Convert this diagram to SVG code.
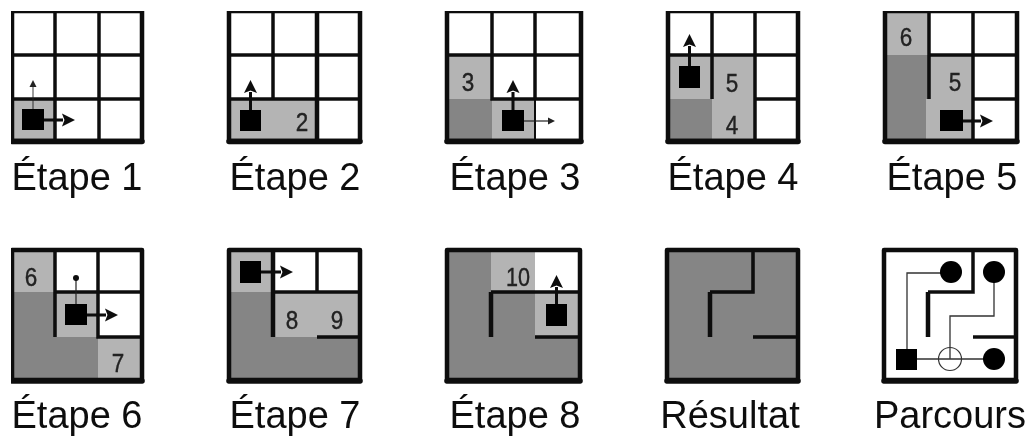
<svg xmlns="http://www.w3.org/2000/svg" width="1033" height="440" viewBox="0 0 1033 440">
<style>
.l{fill:#b4b4b4}.d{fill:#858585}.w{fill:#fff}
.frame{fill:none;stroke:#0a0a0a;stroke-width:4.500;stroke-linejoin:round}
.base{fill:none;stroke:#0a0a0a;stroke-width:5.500;stroke-linecap:round}
.wall{fill:none;stroke:#0a0a0a;stroke-width:3.500;stroke-linejoin:miter}
.thick{stroke:#0a0a0a;stroke-width:3;fill:none;marker-end:url(#hb)}
.thin{stroke:#222;stroke-width:1.2;fill:none;marker-end:url(#hs)}
.robot{fill:#000}
.n{font-family:"Liberation Sans",Arial,sans-serif;font-size:26px;fill:#222;stroke:#222;stroke-width:0.4;text-anchor:middle}
.t{font-family:"Liberation Sans",Arial,sans-serif;font-size:38px;fill:#111;text-anchor:middle}
.cable{fill:none;stroke:#333;stroke-width:1.300}
</style>
<defs>
<filter id="soft" x="0" y="0" width="100%" height="100%"><feGaussianBlur stdDeviation="0.6"/></filter>
<marker id="hb" markerUnits="userSpaceOnUse" markerWidth="14" markerHeight="14" refX="1" refY="7" orient="auto"><path d="M0,0.5 L13,7 L0,13.500 L2.500,7 Z" fill="#0a0a0a"/></marker>
<marker id="hs" markerUnits="userSpaceOnUse" markerWidth="8" markerHeight="8" refX="1" refY="4" orient="auto"><path d="M0,0.5 L7,4 L0,7.5 Z" fill="#222"/></marker>
</defs>
<rect width="1033" height="440" fill="#fff"/>
<g filter="url(#soft)">

<g id="etape-1">
<rect class="l" x="12" y="99" width="43" height="42"/>
<path class="wall" d="M55 11V141M99 11V141M12 55H142M12 99H142"/>
<rect class="frame" x="12" y="11" width="130" height="130"/><path class="base" d="M12 141.500H142"/>
<rect class="robot" x="22" y="109" width="22" height="21"/>
<path class="thin" d="M33 109V86" stroke-opacity="0.75"/>
<path class="thick" d="M44 120H63"/>
<text class="t" x="77" y="190">Étape 1</text>
</g>

<g id="etape-2">
<rect class="l" x="229" y="99" width="88" height="42"/>
<path class="wall" d="M273 11V99M229 55H360M229 99H360"/><path class="wall" stroke-width="4.500" d="M317 11V141" style="stroke-width:4.500px"/>
<rect class="frame" x="229" y="11" width="131" height="130"/><path class="base" d="M229 141.500H360"/>
<rect class="robot" x="240" y="110" width="21" height="21"/>
<path class="thick" d="M250.500 110V92"/>
<text class="n" x="302" y="130.500" textLength="12.500" lengthAdjust="spacingAndGlyphs">2</text>
<text class="t" x="295" y="190">Étape 2</text>
</g>

<g id="etape-3">
<rect class="l" x="447" y="55" width="45" height="44"/><rect class="d" x="447" y="99" width="45" height="42"/><rect class="l" x="492" y="99" width="43" height="42"/>
<path class="wall" d="M447 55H581M492 11V99H581M535 11V99"/><path class="wall" d="M535 99V141" style="stroke-width:2px"/>
<rect class="frame" x="447" y="11" width="134" height="130"/><path class="base" d="M447 141.500H581"/>
<rect class="robot" x="502" y="110" width="22" height="21"/>
<path class="thick" d="M513 110V92"/>
<path class="thin" d="M524 121H549"/>
<text class="n" x="468" y="91" textLength="12.500" lengthAdjust="spacingAndGlyphs">3</text>
<text class="t" x="515" y="190">Étape 3</text>
</g>

<g id="etape-4">
<rect class="l" x="668" y="55" width="44" height="44"/><rect class="d" x="668" y="99" width="44" height="42"/><rect class="l" x="712" y="55" width="43" height="86"/>
<path class="wall" d="M668 55H798M712 11V99M755 11V141M755 99H798"/>
<rect class="frame" x="668" y="11" width="130" height="130"/><path class="base" d="M668 141.500H798"/>
<rect class="robot" x="679" y="66" width="21" height="22"/>
<path class="thick" d="M689.500 66V46"/>
<text class="n" x="732" y="92" textLength="12.500" lengthAdjust="spacingAndGlyphs">5</text>
<text class="n" x="732" y="134" textLength="12.500" lengthAdjust="spacingAndGlyphs">4</text>
<text class="t" x="733" y="190">Étape 4</text>
</g>

<g id="etape-5">
<rect class="l" x="885" y="11" width="44" height="44"/><rect class="d" x="885" y="55" width="44" height="86"/><rect class="l" x="929" y="55" width="44" height="44"/><rect class="l" x="926" y="99" width="47" height="42"/>
<path class="wall" d="M929 11V99M929 55H1017M973 11V141M973 99H1017"/>
<rect class="frame" x="885" y="11" width="132" height="130"/><path class="base" d="M885 141.500H1017"/>
<rect class="robot" x="940" y="110" width="23" height="21"/>
<path class="thick" d="M963 121H981"/>
<text class="n" x="906" y="46" textLength="12.500" lengthAdjust="spacingAndGlyphs">6</text>
<text class="n" x="955" y="91" textLength="12.500" lengthAdjust="spacingAndGlyphs">5</text>
<text class="t" x="952" y="190">Étape 5</text>
</g>

<g id="etape-6">
<rect class="l" x="12" y="250" width="43" height="42"/><rect class="d" x="12" y="292" width="43" height="88"/><rect class="d" x="55" y="337" width="43" height="43"/><rect class="l" x="55" y="292" width="43" height="45"/><rect class="l" x="98" y="337" width="44" height="43"/>
<path class="wall" d="M55 250V337M55 292H142M98 250V337H142"/>
<rect class="frame" x="12" y="250" width="130" height="130"/><path class="base" d="M12 381H142"/>
<rect class="robot" x="65" y="304" width="22" height="21"/>
<path d="M76 304V278" stroke="#222" stroke-width="1.200" fill="none"/><circle cx="76" cy="278" r="3" fill="#111"/>
<path class="thick" d="M87 315H106"/>
<text class="n" x="31" y="286" textLength="12.500" lengthAdjust="spacingAndGlyphs">6</text>
<text class="n" x="118" y="372" textLength="12.500" lengthAdjust="spacingAndGlyphs">7</text>
<text class="t" x="77" y="428">Étape 6</text>
</g>

<g id="etape-7">
<rect class="l" x="229" y="250" width="44" height="42"/><rect class="d" x="229" y="292" width="44" height="88"/><rect class="d" x="273" y="337" width="87" height="43"/><rect class="l" x="273" y="292" width="87" height="45"/>
<path class="wall" d="M317 250V292M317 337H360"/><path class="wall" d="M273 250V337" style="stroke-width:4.500px"/><path class="wall" d="M273 292H360"/>
<rect class="frame" x="229" y="250" width="131" height="130"/><path class="base" d="M229 381H360"/>
<rect class="robot" x="240" y="261" width="21" height="22"/>
<path class="thick" d="M261 272H281"/>
<text class="n" x="292" y="329" textLength="12.500" lengthAdjust="spacingAndGlyphs">8</text>
<text class="n" x="337" y="329" textLength="12.500" lengthAdjust="spacingAndGlyphs">9</text>
<text class="t" x="295" y="428">Étape 7</text>
</g>

<g id="etape-8">
<rect class="d" x="447" y="250" width="133" height="130"/><rect class="l" x="491" y="250" width="44" height="42"/><rect class="w" x="535" y="250" width="45" height="42"/><rect class="l" x="535" y="292" width="45" height="45"/>
<path class="wall" d="M491 292H580M535 337H580"/><path class="wall" d="M491 337V292" style="stroke-width:4.500px"/>
<rect class="frame" x="447" y="250" width="133" height="130"/><path class="base" d="M447 381H580"/>
<rect class="robot" x="546" y="304" width="21" height="22"/>
<path class="thick" d="M556.500 304V287"/>
<text class="n" x="518" y="286" textLength="24" lengthAdjust="spacingAndGlyphs">10</text>
<text class="t" x="515" y="428">Étape 8</text>
</g>

<g id="resultat">
<rect class="d" x="667" y="250" width="131" height="130"/>
<path class="wall" d="M753 250V292H710"/><path class="wall" d="M710 337V292" style="stroke-width:4.500px"/><path class="wall" d="M753 337H798"/>
<rect class="frame" x="667" y="250" width="131" height="130"/><path class="base" d="M667 381H798"/>
<text class="t" x="730" y="428">Résultat</text>
</g>

<g id="parcours">
<path class="wall" d="M973 250V292H928"/><path class="wall" d="M928 337V292" style="stroke-width:4.500px"/><path class="wall" d="M973 337H1016"/>
<rect class="frame" x="884" y="250" width="132" height="130"/><path class="base" d="M884 381H1016"/>
<path class="cable" d="M907 359V273H951M907 359H994M950 359V316H994V272"/>
<rect class="robot" x="896" y="349" width="21" height="21"/>
<circle cx="951" cy="272" r="11" fill="#000"/><circle cx="994" cy="272" r="11" fill="#000"/><circle cx="994" cy="359" r="11" fill="#000"/>
<circle cx="950" cy="359" r="11.500" fill="none" stroke="#333" stroke-width="1.200"/>
<text class="t" x="950" y="428">Parcours</text>
</g>

</g>
</svg>
